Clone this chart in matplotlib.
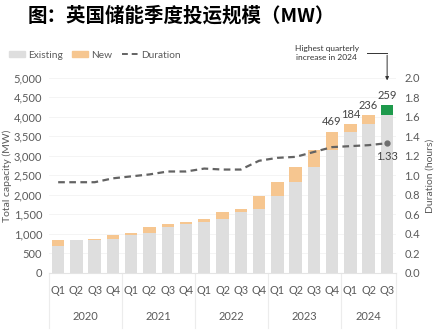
import matplotlib
matplotlib.use("Agg")
import matplotlib.pyplot as plt
from matplotlib.patches import Patch
from matplotlib.lines import Line2D
from matplotlib.transforms import blended_transform_factory

plt.rcParams["font.family"] = ["Lato", "DejaVu Sans"]

quarters = ["Q1", "Q2", "Q3", "Q4"] * 4 + ["Q1", "Q2", "Q3"]
years = ["2020", "2021", "2022", "2023", "2024"]
year_spans = [(0, 3), (4, 7), (8, 11), (12, 15), (16, 18)]

existing = [696, 845, 850, 868, 975, 1017, 1171, 1260, 1299, 1385,
            1573, 1632, 1974, 2333, 2726, 3155, 3624, 3808, 4044]
new = [150, 5, 18, 107, 42, 154, 89, 39, 86, 188,
       59, 342, 359, 393, 429, 469, 184, 236, 259]
duration = [0.93, 0.93, 0.93, 0.97, 0.99, 1.01, 1.04, 1.04, 1.07, 1.06,
            1.06, 1.15, 1.18, 1.19, 1.24, 1.29, 1.30, 1.31, 1.33]
labelled = [15, 16, 17, 18]  # bars with a value label for "new"

GREY = "#dedede"
ORANGE = "#f6c690"
GREEN = "#1e9a4c"
TXT = "#5a5a5a"

fig = plt.figure(figsize=(4.34, 3.30), dpi=100)
ax = fig.add_axes([0.113, 0.173, 0.7995, 0.591])
ax2 = ax.twinx()

x = list(range(len(existing)))
new_colors = [ORANGE] * (len(new) - 1) + [GREEN]
ax.bar(x, existing, width=0.68, color=GREY, zorder=2)
ax.bar(x, new, bottom=existing, width=0.68, color=new_colors, zorder=2)

for i in labelled:
    ax.text(i, existing[i] + new[i] + 110, str(new[i]), ha="center", va="bottom",
            fontsize=8, color="#444444")

ax.set_xlim(-0.5, len(x) - 0.5)
ax.set_ylim(0, 5000)
ax.set_yticks(range(0, 5001, 500))
ax.set_yticklabels([f"{v:,}" for v in range(0, 5001, 500)])
ax.set_xticks(x)
ax.set_xticklabels(quarters)
ax.tick_params(axis="x", length=0, pad=9, labelsize=7.8, labelcolor=TXT)
ax.tick_params(axis="y", length=0, pad=5, labelsize=8, labelcolor=TXT)
ax.grid(axis="y", color="#f3f3f3", linewidth=0.6, zorder=0)
ax.set_ylabel("Total capacity (MW)", fontsize=7.5, color=TXT)
ax.yaxis.set_label_coords(-0.108, 0.5)
for s in ["top", "left", "right"]:
    ax.spines[s].set_visible(False)
ax.spines["bottom"].set_color("#e4e4e4")

ax2.plot(x, duration, color="#636363", linestyle=(0, (3, 2)), linewidth=1.6, zorder=3)
ax2.plot(x[-1], duration[-1], "o", color="#6e6e6e", markersize=3.5, zorder=4)
ax2.text(x[-1], duration[-1] - 0.08, f"{duration[-1]:.2f}", ha="center", va="top",
         fontsize=8, color="#444444")
ax2.set_ylim(0, 2.0)
ax2.set_yticks([i / 10 for i in range(0, 21, 2)])
ax2.set_yticklabels([f"{i / 10:.1f}" for i in range(0, 21, 2)])
ax2.tick_params(axis="y", length=0, pad=6, labelsize=8, labelcolor=TXT)
ax2.set_ylabel("Duration (hours)", fontsize=7.5, color=TXT)
ax2.yaxis.set_label_coords(1.085, 0.5)
for s in ax2.spines.values():
    s.set_visible(False)

# year groups under the quarter labels
tr = blended_transform_factory(ax.transData, ax.transAxes)
for (a, b), yr in zip(year_spans, years):
    ax.text((a + b) / 2, -0.225, yr, transform=tr, ha="center", va="center",
            fontsize=8, color=TXT)
for edge in [-0.5, 3.5, 7.5, 11.5, 15.5, 18.5]:
    ax.add_line(Line2D([edge, edge], [0, -0.28], transform=tr, color="#ececec",
                       linewidth=0.8, clip_on=False))

# annotation for the last quarter
fig.text(0.753, 0.84, "Highest quarterly\nincrease in 2024", ha="center", va="center",
         fontsize=6, color="#333333", linespacing=1.3)
fig.add_artist(Line2D([0.845, 0.892], [0.84, 0.84], color="#333333", linewidth=0.7))
ax.annotate("", xy=(0.892, 0.748), xytext=(0.892, 0.841), xycoords="figure fraction",
            textcoords="figure fraction",
            arrowprops=dict(arrowstyle="-|>", color="#333333", lw=0.7, mutation_scale=5))

handles = [Patch(color=GREY), Patch(color=ORANGE),
           Line2D([], [], color="#636363", linestyle=(0, (3, 2)), linewidth=1.4)]
fig.legend(handles, ["Existing", "New", "Duration"], loc="center left",
           bbox_to_anchor=(0.0, 0.833), ncol=3, frameon=False, fontsize=7.3,
           labelcolor=TXT, handlelength=1.6, handleheight=0.6, handletextpad=0.3,
           columnspacing=0.9)

fig.text(0.418, 0.952, "图：英国储能季度投运规模（MW）", ha="center", va="center",
         fontsize=14, fontweight="bold", family=["Noto Sans CJK SC", "DejaVu Sans"])

fig.savefig("out.png", dpi=100)
